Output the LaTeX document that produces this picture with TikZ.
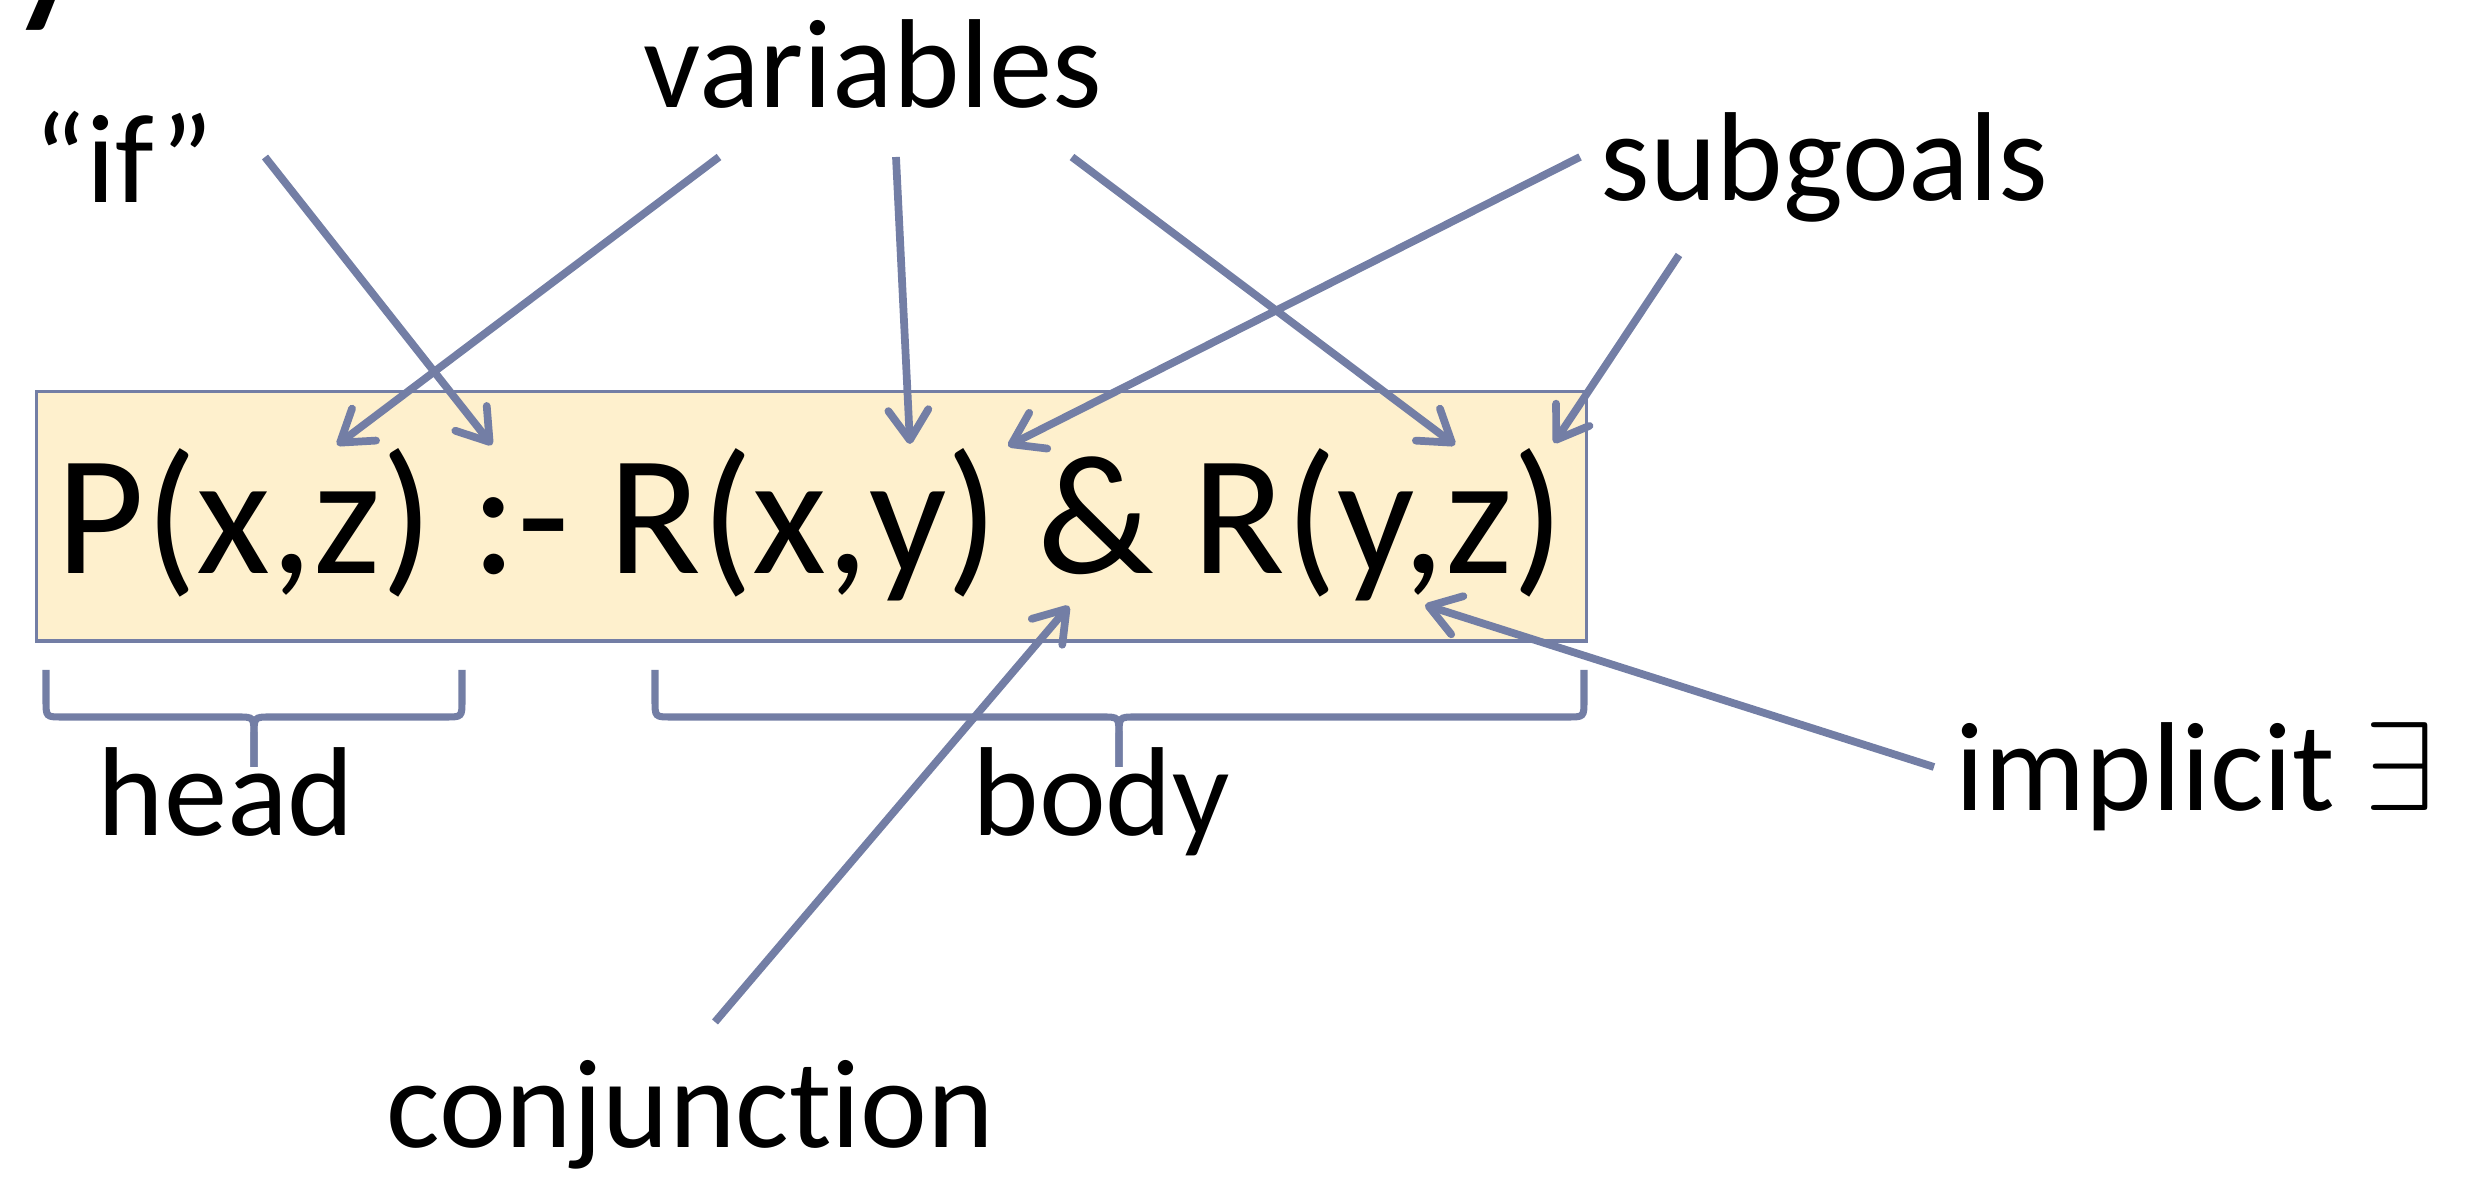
\RequirePackage{fix-cm}
\documentclass[tikz,border=0pt]{standalone}
\usepackage{fontspec}
\setmainfont{Carlito}[Ligatures=CommonOff]
\usetikzlibrary{arrows.meta}
\definecolor{slate}{RGB}{115,126,165}
\definecolor{cream}{RGB}{254,240,205}

\begin{document}
\begin{tikzpicture}[x=0.01cm,y=-0.01cm,
  lbl/.style={anchor=base west,inner sep=0pt,font=\fontsize{36}{43}\selectfont},
  ptr/.style={draw=slate,line width=2.2pt,-{Straight Barb[round,length=0.3cm,width=0.4cm]}},
  brc/.style={draw=slate,line width=2pt}]
\useasboundingbox (0,0) rectangle (2465,1183);
% clipped letter of the heading above
\node[anchor=base west,inner sep=0pt,font=\fontsize{58}{64}\selectfont] (ttl) at (4,-2) {y};
% the rule
\node[draw=slate,fill=cream,line width=0.9pt,minimum width=15.49cm,minimum height=2.49cm,inner sep=0pt] (rule) at (811.5,516.5) {};
\node[anchor=base west,inner sep=0pt,font=\fontsize{48.6}{56}\selectfont] (expr) at (56,574) {P(x,z) :- R(x,y) \& R(y,z)};
% labels
\node[lbl] (if) at (33,203) {“if”};
\node[lbl] (vars) at (643,108) {variables};
\node[lbl] (subg) at (1600,201) {subgoals};
\node[lbl] (impl) at (1955,811) {implicit \ensuremath{\exists}};
\node[lbl] (head) at (97,836) {head};
\node[lbl] (body) at (972,836) {body};
\node[lbl] (conj) at (386,1148) {conjunction};
% arrow ends
\coordinate (ifS) at (265,157);   \coordinate (ifT) at (492,445);
\coordinate (vaS) at (719,157);   \coordinate (vaT) at (337,445);
\coordinate (vbS) at (896,157);   \coordinate (vbT) at (910,444);
\coordinate (vcS) at (1072,157);  \coordinate (vcT) at (1455,445);
\coordinate (saS) at (1580,157);  \coordinate (saT) at (1008,446);
\coordinate (sbS) at (1679,255);  \coordinate (sbT) at (1554,443);
\coordinate (cjS) at (715,1022);  \coordinate (cjT) at (1069,606);
\coordinate (exS) at (1934,767);  \coordinate (exT) at (1425,605);
\draw[ptr] (ifS)--(ifT);
\draw[ptr] (vaS)--(vaT);
\draw[ptr] (vbS)--(vbT);
\draw[ptr] (vcS)--(vcT);
\draw[ptr] (saS)--(saT);
\draw[ptr] (sbS)--(sbT);
\draw[ptr] (cjS)--(cjT);
\draw[ptr] (exS)--(exT);
% braces
\draw[brc] (46,670) -- (46,700) .. controls (46,717) .. (62,717) -- (238,717)
  .. controls (254,717) .. (254,737) -- (254,767);
\draw[brc] (254,767) -- (254,737) .. controls (254,717) .. (270,717) -- (446,717)
  .. controls (462,717) .. (462,700) -- (462,670);
\draw[brc] (655,670) -- (655,700) .. controls (655,717) .. (671,717) -- (1103,717)
  .. controls (1119,717) .. (1119,737) -- (1119,767);
\draw[brc] (1119,767) -- (1119,737) .. controls (1119,717) .. (1135,717) -- (1568,717)
  .. controls (1584,717) .. (1584,700) -- (1584,670);
\end{tikzpicture}
\end{document}
